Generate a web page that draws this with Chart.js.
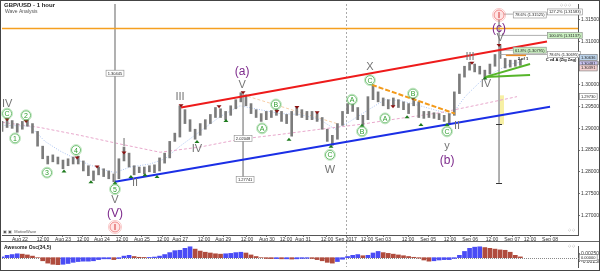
<!DOCTYPE html>
<html>
<head>
<meta charset="utf-8">
<script src="https://cdn.jsdelivr.net/npm/chart.js@4.4.0/dist/chart.umd.min.js"></script>
<style>
body{margin:0;background:#fff;}
#wrap{position:relative;width:600px;height:271px;overflow:hidden;background:#fff;}
#main{position:absolute;left:0;top:0;}
#osc{position:absolute;left:0;top:242px;}
#frame{position:absolute;left:0;top:0;width:598px;height:269px;border:1px solid #444;pointer-events:none;}
#sep{position:absolute;left:0;top:241px;width:600px;height:0;border-top:1px solid #666;pointer-events:none;}
</style>
</head>
<body>
<div id="wrap">
<canvas id="main" width="600" height="242"></canvas>
<canvas id="osc" width="600" height="29"></canvas>
<div id="sep"></div>
<div id="frame"></div>
</div>
<script>
// time axis is in trading hours from the left edge of the chart
const xTickHours = [10.6,24.2,36.0,47.8,59.0,70.8,82.6,95.0,105.1,119.2,130.5,144.6,156.4,167.6,177.7,191.8,203.1,215.5,224.9,239.7,251.5,264.5,276.3,289.2,301.1,311.7,323.5];
const xTickLabels = ['Aug 22','12:00','Aug 23','12:00','Aug 24','12:00','Aug 25','12:00','Aug 27','12:00','Aug 29','12:00','Aug 30','12:00','Aug 31','12:00','Sep 2017','12:00','Sep 03','12:00','Sep 05','12:00','Sep 06','12:00','Sep 07','12:00','Sep 08'];
const yTicks = [1.27,1.275,1.28,1.285,1.29,1.295,1.30,1.305,1.31,1.315];
const oscTicks = [0.0025,-0.0025];

// price bars (3 hour steps)
const barHours = [0,3,6,9,12,15,18,21,24,27,30,33,36,39,42,45,48,51,54,57,60,63,66,69,72,75,78,81,84,87,90,93,96,99,102,105,108,111,114,117,120,123,126,129,132,135,138,141,144,147,150,153,156,159,162,165,168,171,174,177,180,183,186,189,192,195,198,201,204,207,210,213,216,219,222,225,228,231,234,237,240,243,246,249,252,255,258,261,264,267,270,273,276,279,282,285,288,291,294,297,300,303,306];
const barHigh = [1.2916,1.2923,1.2918,1.2911,1.2916,1.2920,1.2911,1.2893,1.2859,1.2836,1.2839,1.2834,1.2827,1.2830,1.2834,1.2836,1.2825,1.2814,1.2802,1.2811,1.2807,1.2802,1.2795,1.2830,1.2857,1.2843,1.2814,1.2811,1.2811,1.2814,1.2816,1.2832,1.2843,1.2870,1.2889,1.2952,1.2943,1.2920,1.2898,1.2911,1.2920,1.2932,1.2948,1.2945,1.2939,1.2952,1.2966,1.2982,1.2977,1.2957,1.2943,1.2934,1.2939,1.2941,1.2945,1.2939,1.2932,1.2939,1.2948,1.2943,1.2939,1.2939,1.2936,1.2925,1.2898,1.2884,1.2911,1.2939,1.2957,1.2957,1.2948,1.2930,1.2973,1.3000,1.2984,1.2970,1.2966,1.2970,1.2966,1.2961,1.2957,1.2970,1.2961,1.2939,1.2939,1.2936,1.2934,1.2930,1.2934,1.2984,1.3025,1.3043,1.3052,1.3048,1.3043,1.3034,1.3048,1.3070,1.3091,1.3061,1.3057,1.3057,1.3059];
const barLow = [1.2893,1.2902,1.2900,1.2891,1.2898,1.2905,1.2889,1.2859,1.2830,1.2818,1.2823,1.2818,1.2807,1.2814,1.2818,1.2818,1.2802,1.2791,1.2780,1.2793,1.2789,1.2784,1.2777,1.2784,1.2825,1.2811,1.2793,1.2798,1.2795,1.2800,1.2798,1.2802,1.2820,1.2832,1.2870,1.2880,1.2911,1.2893,1.2875,1.2884,1.2898,1.2911,1.2925,1.2925,1.2920,1.2930,1.2945,1.2961,1.2952,1.2934,1.2925,1.2916,1.2920,1.2925,1.2930,1.2916,1.2911,1.2882,1.2930,1.2925,1.2920,1.2920,1.2916,1.2898,1.2870,1.2861,1.2875,1.2907,1.2934,1.2939,1.2920,1.2907,1.2920,1.2966,1.2961,1.2952,1.2945,1.2952,1.2948,1.2943,1.2934,1.2952,1.2925,1.2923,1.2925,1.2923,1.2920,1.2916,1.2909,1.2930,1.2980,1.3018,1.3034,1.3030,1.3025,1.3014,1.3025,1.3043,1.3061,1.3039,1.3041,1.3043,1.3045];
const aoValues = [0.0005,0.0015,0.0020,0.0025,0.00225,0.00175,0.0010,0.0000,-0.0020,-0.0035,-0.00425,-0.0045,-0.00425,-0.00375,-0.0030,-0.0025,-0.00225,-0.00225,-0.0020,-0.00125,-0.00075,-0.00075,-0.00125,-0.0005,0.0010,0.0015,0.00075,0.00025,0.00015,0.00015,0.0004,0.0010,0.0020,0.00325,0.0045,0.00475,0.0060,0.0070,0.0055,0.00425,0.0035,0.0030,0.0025,0.00225,0.0025,0.00275,0.00325,0.0035,0.0030,0.00175,0.00075,0.0000,-0.0005,-0.0006,-0.0006,-0.00075,-0.00075,-0.0009,-0.00075,-0.0005,-0.0004,-0.0005,-0.00125,-0.0020,-0.0030,-0.0035,-0.0025,-0.0010,0.00075,0.0015,0.0020,0.00125,0.0015,0.0030,0.0040,0.00325,0.00275,0.00225,0.00175,0.00125,0.00075,0.00025,-0.00025,-0.0015,-0.00225,-0.0020,-0.0015,-0.00125,-0.00125,-0.0005,0.0015,0.0040,0.0060,0.00675,0.0070,0.0065,0.0060,0.0055,0.0050,0.00475,0.0035,0.0015,0.0005];

// moving averages
const slowMA = [[0,1.2914],[22.4,1.2902],[46.0,1.2884],[69.7,1.2864],[93.3,1.2845],[116.9,1.2857],[140.5,1.2875],[164.1,1.2886],[187.7,1.2898],[211.3,1.2909],[234.9,1.2923],[258.6,1.2936],[282.2,1.2955],[304.0,1.2973]];
const fastMA = [[0,1.2907],[16.5,1.2905],[25.4,1.2870],[34.2,1.2848],[46.0,1.2825],[57.8,1.2807],[66.7,1.2798],[75.6,1.2811],[87.4,1.2818],[96.2,1.2830],[105.1,1.2859],[116.9,1.2893],[128.7,1.2927],[140.5,1.2952],[152.3,1.2943],[164.1,1.2934],[175.9,1.2932],[187.7,1.2920],[196.6,1.2898],[205.4,1.2916],[217.2,1.2945],[226.1,1.2966],[234.9,1.2964],[246.7,1.2952],[258.6,1.2939],[265.6,1.2932],[273.3,1.2973],[282.2,1.3007],[291.0,1.3030],[299.9,1.3048],[305.8,1.3052]];

// drawn trend lines
const redLine = [[105.7,1.2948],[321.7,1.3100]];
const blueLine = [[66.7,1.2777],[323.5,1.2950]];
const orangeLine = [[218.4,1.3000],[267.4,1.2934]];
const paleOrangeLine = [[142.3,1.2977],[197.7,1.2911]];
const orangeLevel = [[0,1.3130],[340,1.3130]];
const greenUpper = [[285.1,1.3018],[311.7,1.3048]];
const greenLower = [[285.1,1.3018],[311.7,1.3023]];
const orangeShort = [[297.4,1.3068],[309.3,1.3068]];
const fibLines = [
  [[293.4,1.3163],[321.7,1.3163]],
  [[293.4,1.3114],[321.7,1.3114]],
  [[293.4,1.3080],[301.6,1.3080]],
  [[293.4,1.3070],[321.7,1.3070]]
];
const measureLines = [
  [[66.7,1.3190],[66.7,1.2773]],
  [[142.3,1.2980],[142.3,1.2782]],
  [[293.4,1.3161],[293.4,1.2775]]
];
const measureEnds = [[142.3,1.2782],[293.4,1.2911],[293.4,1.2775]];
const monthLine = 203.1;
const yellowBox = [293.9,296.3,1.2909,1.2976];

// wave labels
const greyWaves = [[3,1.2957,'IV'],[72,1.2866,'I'],[66.7,1.2734,'V'],[78.5,1.2775,'II'],[105.1,1.2973,'III'],[115.1,1.2853,'IV'],[141.7,1.3000,'V'],[193.6,1.2804,'W'],[217.2,1.3041,'X'],[262.7,1.2859,'y'],[268.6,1.2905,'II'],[276.3,1.3064,'III'],[285.7,1.3002,'IV'],[294,1.3107,'V']];
const purpleWaves = [[141.7,1.3030,'(a)'],[262.7,1.2825,'(b)'],[293.4,1.3130,'(c)'],[66.7,1.2703,'(V)']];
const redWaves = [[66.7,1.2673,'I'],[293.4,1.3161,'I']];
const greenWaves = [[3,1.2934,'C'],[7.7,1.2877,'1'],[14.2,1.2930,'2'],[26.6,1.2798,'3'],[43.7,1.2850,'4'],[66.7,1.2760,'5'],[153.5,1.2900,'A'],[161.7,1.2955,'B'],[193.6,1.2839,'C'],[206.6,1.2966,'A'],[212.5,1.2893,'B'],[217.2,1.3011,'C'],[226.1,1.2923,'A'],[242.6,1.2980,'B'],[262.7,1.2893,'C']];
const highMarks = [[3,1.2920],[14.2,1.2916],[44.3,1.2832],[56.1,1.2811],[72,1.2843],[105.7,1.2952],[128.1,1.2950],[142.3,1.2982],[162.3,1.2939],[174.1,1.2948],[186,1.2936],[230.8,1.2950],[242.6,1.2968],[277.4,1.3050],[293.4,1.3091]];
const lowMarks = [[36.6,1.2802],[52.5,1.2777],[66.7,1.2775],[76.1,1.2789],[84.4,1.2793],[91.5,1.2789],[115.1,1.2870],[132.2,1.2918],[169.4,1.2875],[194.2,1.2859],[212.5,1.2907],[239.1,1.2927],[247.3,1.2909],[262.7,1.2909],[285.1,1.3016]];

// boxes
const fibTags = [[321.7,1.3168,'127.2% (1.31583)','#ffffff'],[301.6,1.3161,'78.6% (1.31525)','#ffffff'],[321.7,1.3114,'100.0% (1.31137)','#c9efc0'],[301.6,1.3080,'61.8% (1.30795)','#c9efc0'],[321.7,1.3070,'78.6% (1.30695)','#ffffff']];
const measureTags = [[66.7,1.3027,'1.30445'],[142.3,1.2877,'2.02048'],[143.5,1.2782,'1.27741']];
const priceTags = [[1.30636,'#bcd3ea'],[1.30481,'#c9c3f0'],[1.30391,'#f2d0d0'],[1.29730,'#ffffff']];
const noteTexts = [[307.5,1.3059,'2 of 1'],[330,1.3057,'C v4 A (Zig Zag)']];

const yMin = 1.26545, yMax = 1.31863;
const FONT = '"Liberation Sans", Arial, sans-serif';
const pts = a => a.map(p => ({x: p[0], y: p[1]}));

function lineSet(a, color, width, dash, order) {
  return {type: 'line', data: pts(a), borderColor: color, borderWidth: width, borderDash: dash || [],
    pointRadius: 0, fill: false, tension: 0, order: order || 1};
}

function box(ctx, x0, Y, text, fill, stroke) {
  ctx.font = '4px ' + FONT;
  const w = ctx.measureText(text).width + 4;
  ctx.fillStyle = fill; ctx.fillRect(x0, Y - 3, w, 6);
  ctx.strokeStyle = stroke; ctx.lineWidth = 0.6; ctx.strokeRect(x0 + 0.3, Y - 3, w - 0.6, 6);
  ctx.fillStyle = '#222'; ctx.textAlign = 'left'; ctx.textBaseline = 'middle';
  ctx.fillText(text, x0 + 2, Y + 0.3);
}

const notes = {
  id: 'notes',
  beforeDatasetsDraw(chart) {
    const {ctx, scales: {x, y}} = chart;
    ctx.save();
    ctx.fillStyle = '#f7f0a4';
    const x1 = x.getPixelForValue(yellowBox[0]), x2 = x.getPixelForValue(yellowBox[1]);
    const y1 = y.getPixelForValue(yellowBox[3]), y2 = y.getPixelForValue(yellowBox[2]);
    ctx.fillRect(x1, y1, x2 - x1, y2 - y1);
    ctx.strokeStyle = '#aaa'; ctx.setLineDash([2, 2]); ctx.lineWidth = 1;
    const mx = Math.round(x.getPixelForValue(monthLine)) + 0.5;
    ctx.beginPath(); ctx.moveTo(mx, chart.chartArea.top); ctx.lineTo(mx, chart.chartArea.bottom); ctx.stroke();
    ctx.restore();
  },
  afterDatasetsDraw(chart) {
    const {ctx, scales: {x, y}} = chart;
    const px = h => x.getPixelForValue(h), py = p => y.getPixelForValue(p);
    ctx.save();
    ctx.textAlign = 'center'; ctx.textBaseline = 'middle';

    // end ticks of the measuring lines
    ctx.strokeStyle = '#333'; ctx.lineWidth = 1;
    measureEnds.forEach(([h, p]) => {
      const X = px(h), Y = Math.round(py(p)) + 0.5;
      ctx.beginPath(); ctx.moveTo(X - 3, Y); ctx.lineTo(X + 3, Y); ctx.stroke();
    });

    // swing markers
    ctx.fillStyle = '#8b1010';
    highMarks.forEach(([h, p]) => {
      const X = px(h), Y = py(p);
      ctx.beginPath(); ctx.moveTo(X - 2.5, Y - 1.5); ctx.lineTo(X + 2.5, Y - 1.5); ctx.lineTo(X, Y + 1.5); ctx.closePath(); ctx.fill();
    });
    ctx.fillStyle = '#1d7a1d';
    lowMarks.forEach(([h, p]) => {
      const X = px(h), Y = py(p);
      ctx.beginPath(); ctx.moveTo(X - 2.5, Y + 1.5); ctx.lineTo(X + 2.5, Y + 1.5); ctx.lineTo(X, Y - 1.5); ctx.closePath(); ctx.fill();
    });

    // wave labels
    ctx.font = '11px ' + FONT; ctx.fillStyle = '#747474';
    greyWaves.forEach(([h, p, t]) => ctx.fillText(t, px(h), py(p)));
    ctx.font = '12px ' + FONT; ctx.fillStyle = '#7d2a8c';
    purpleWaves.forEach(([h, p, t]) => ctx.fillText(t, px(h), py(p)));
    greenWaves.forEach(([h, p, t]) => {
      const X = px(h), Y = py(p);
      ctx.strokeStyle = 'rgba(90,190,90,0.35)'; ctx.lineWidth = 1;
      ctx.beginPath(); ctx.arc(X, Y, 5.5, 0, Math.PI * 2); ctx.stroke();
      ctx.fillStyle = '#fff'; ctx.strokeStyle = '#4caf50'; ctx.lineWidth = 0.8;
      ctx.beginPath(); ctx.arc(X, Y, 4.5, 0, Math.PI * 2); ctx.fill(); ctx.stroke();
      ctx.fillStyle = '#2e9e2e'; ctx.font = '7px ' + FONT;
      ctx.fillText(t, X, Y + 0.5);
    });
    redWaves.forEach(([h, p, t]) => {
      const X = px(h), Y = py(p);
      ctx.strokeStyle = 'rgba(240,120,120,0.4)'; ctx.lineWidth = 1;
      ctx.beginPath(); ctx.arc(X, Y, 6.5, 0, Math.PI * 2); ctx.stroke();
      ctx.fillStyle = 'rgba(255,225,225,0.9)'; ctx.strokeStyle = '#ee7070'; ctx.lineWidth = 0.8;
      ctx.beginPath(); ctx.arc(X, Y, 5, 0, Math.PI * 2); ctx.fill(); ctx.stroke();
      ctx.fillStyle = '#d02020'; ctx.font = '9px ' + FONT;
      ctx.fillText(t, X, Y + 0.5);
    });

    // tool boxes
    fibTags.forEach(([h, p, t, f]) => box(ctx, px(h), py(p), t, f, '#8a8a8a'));
    measureTags.forEach(([h, p, t]) => {
      ctx.font = '4px ' + FONT;
      const w = ctx.measureText(t).width + 4;
      box(ctx, px(h) - w / 2, py(p), t, '#ffffff', '#8a8a8a');
    });
    ctx.font = 'bold 4px ' + FONT; ctx.fillStyle = '#111'; ctx.textAlign = 'center'; ctx.textBaseline = 'middle';
    noteTexts.forEach(([h, p, t]) => ctx.fillText(t, px(h), py(p)));

    // current price tags on the axis
    priceTags.forEach(([p, f]) => box(ctx, chart.chartArea.right + 1, py(p), p.toFixed(5), f, '#777'));

    // titles
    ctx.textAlign = 'left'; ctx.textBaseline = 'alphabetic';
    ctx.fillStyle = '#222'; ctx.font = 'bold 6px ' + FONT;
    ctx.fillText('GBP/USD - 1 hour', 4, 7);
    ctx.fillStyle = '#555'; ctx.font = '5px ' + FONT;
    ctx.fillText('Wave Analysis', 5, 13);
    ctx.font = '4px ' + FONT; ctx.fillStyle = '#555';
    ctx.fillText('\u25A3 \u25A3  MotiveWave', 3, 233);
    ctx.fillStyle = '#999';
    ctx.fillText('\u25C7 \u25C7 \u25C7', 560, 6);
    ctx.fillText('\u25C7 \u25C7', 568, 231);
    ctx.restore();
  }
};

const tickFont = {size: 5, family: FONT};

new Chart(document.getElementById('main'), {
  type: 'bar',
  data: {
    datasets: [
      {label: 'GBP/USD', data: barHours.map((h, i) => ({x: h, y: [barLow[i], barHigh[i]]})),
        backgroundColor: '#7c7c7c', barThickness: 2, order: 5},
      lineSet(slowMA, '#e8a8cc', 1, [3, 2], 7),
      lineSet(fastMA, '#a9c3f2', 1, [1, 1.5], 7),
      lineSet(paleOrangeLine, '#f7cfa8', 1, [3, 2], 6),
      lineSet(orangeLevel, '#f5a020', 1.5, [], 2),
      ...fibLines.map(l => lineSet(l, '#9a9a9a', 0.8, [], 3)),
      ...measureLines.map(l => lineSet(l, '#a5a5a5', 1, [], 3)),
      lineSet(redLine, '#ee1b1b', 2, [], 1),
      lineSet(blueLine, '#1b2fe6', 2, [], 1),
      lineSet(orangeLine, '#f39a1a', 2, [5, 2], 1),
      lineSet(greenUpper, '#56b52a', 2, [], 1),
      lineSet(greenLower, '#56b52a', 2, [], 1),
      lineSet(orangeShort, '#ee8a20', 1.5, [], 1)
    ]
  },
  options: {
    responsive: false, animation: false, devicePixelRatio: 1,
    layout: {padding: {left: 2, top: 1, right: 0, bottom: 0}},
    plugins: {legend: {display: false}, tooltip: {enabled: false}},
    scales: {
      x: {type: 'linear', min: 0, max: 340, offset: false,
        afterBuildTicks: s => { s.ticks = xTickHours.map(v => ({value: v})); },
        afterFit: s => { s.height = 7; },
        ticks: {autoSkip: false, maxRotation: 0, padding: 0, font: tickFont, color: '#333',
          callback: (v, i) => xTickLabels[i]},
        grid: {drawOnChartArea: false, tickLength: 2, color: '#777', offset: false},
        border: {color: '#555'}},
      y: {position: 'right', min: yMin, max: yMax,
        afterBuildTicks: s => { s.ticks = yTicks.map(v => ({value: v})); },
        afterFit: s => { s.width = 22; },
        ticks: {padding: 1, font: tickFont, color: '#333', callback: v => v.toFixed(5)},
        grid: {drawOnChartArea: false, tickLength: 2, color: '#777'},
        border: {color: '#555'}}
    }
  },
  plugins: [notes]
});

const oscNotes = {
  id: 'oscNotes',
  beforeDatasetsDraw(chart) {
    const {ctx, chartArea: a, scales: {x, y}} = chart;
    ctx.save();
    ctx.strokeStyle = '#888'; ctx.lineWidth = 1; ctx.setLineDash([1, 1]);
    const zy = Math.round(y.getPixelForValue(0)) + 0.5;
    ctx.beginPath(); ctx.moveTo(a.left, zy); ctx.lineTo(a.right + 2, zy); ctx.stroke();
    ctx.strokeStyle = '#aaa'; ctx.setLineDash([2, 2]);
    const mx = Math.round(x.getPixelForValue(monthLine)) + 0.5;
    ctx.beginPath(); ctx.moveTo(mx, 0); ctx.lineTo(mx, a.bottom); ctx.stroke();
    ctx.restore();
  },
  afterDatasetsDraw(chart) {
    const {ctx, chartArea: a, scales: {y}} = chart;
    ctx.save();
    box(ctx, a.right + 1, y.getPixelForValue(0), '0.00000', '#ffffff', '#777');
    ctx.textAlign = 'left'; ctx.textBaseline = 'alphabetic';
    ctx.fillStyle = '#222'; ctx.font = 'bold 5px ' + FONT;
    ctx.fillText('Awesome Osc(34,5)', 4, 7);
    ctx.fillStyle = '#999'; ctx.font = '4px ' + FONT;
    ctx.fillText('\u25C7 \u25C7', 568, 5);
    ctx.restore();
  }
};

new Chart(document.getElementById('osc'), {
  type: 'bar',
  data: {
    datasets: [{
      label: 'Awesome Osc(34,5)',
      data: barHours.map((h, i) => ({x: h, y: aoValues[i]})),
      backgroundColor: aoValues.map((v, i) => (i > 0 && v < aoValues[i - 1]) ? '#b04c3e' : '#4a4cf5'),
      barThickness: 4
    }]
  },
  options: {
    responsive: false, animation: false, devicePixelRatio: 1,
    layout: {padding: {left: 2, top: 1, right: 0, bottom: 1}},
    plugins: {legend: {display: false}, tooltip: {enabled: false}},
    scales: {
      x: {type: 'linear', min: 0, max: 340, offset: false, display: false},
      y: {position: 'right', min: -0.006, max: 0.0075,
        afterBuildTicks: s => { s.ticks = oscTicks.map(v => ({value: v})); },
        afterFit: s => { s.width = 22; },
        ticks: {padding: 1, font: tickFont, color: '#333', callback: v => v.toFixed(5)},
        grid: {drawOnChartArea: false, tickLength: 2, color: '#777'},
        border: {color: '#555'}}
    }
  },
  plugins: [oscNotes]
});
</script>
</body>
</html>
